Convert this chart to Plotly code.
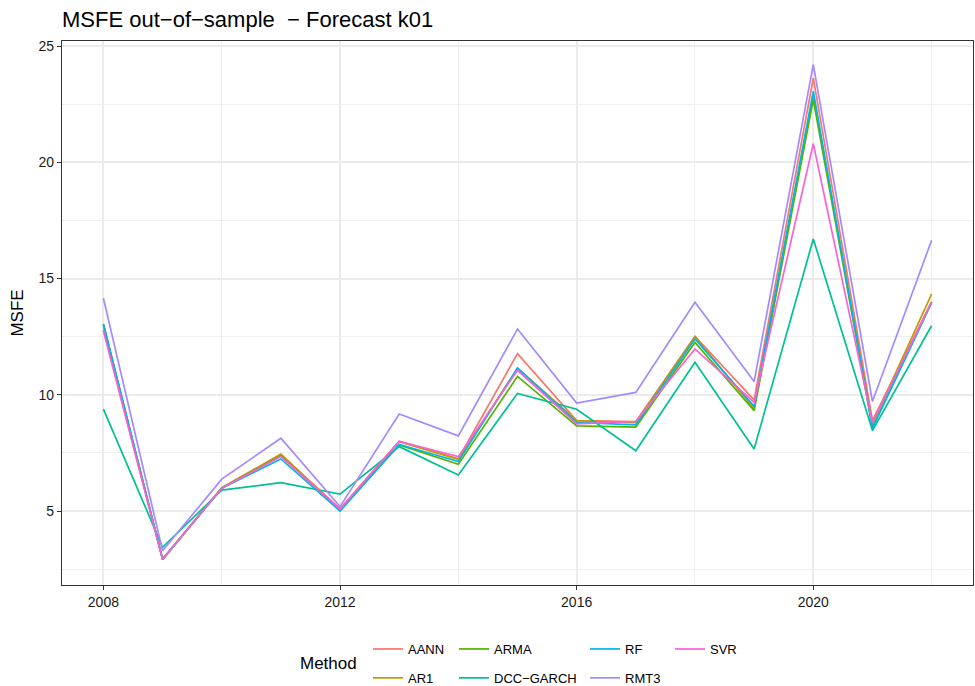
import plotly.graph_objects as go

years = list(range(2008, 2023))

aann = [12.80, 2.92, 5.98, 7.42, 5.10, 8.00, 7.25, 11.77, 8.89, 8.85, 12.51, 9.78, 23.62, 8.90, 14.00]
ar1 = [13.05, 2.92, 6.00, 7.45, 5.05, 7.98, 7.22, 11.15, 8.89, 8.80, 12.50, 9.40, 22.90, 8.75, 14.33]
arma = [13.00, 2.92, 5.98, 7.38, 5.02, 7.84, 7.01, 10.79, 8.66, 8.61, 12.25, 9.32, 22.70, 8.60, 14.00]
dcc_garch = [9.38, 3.44, 5.90, 6.22, 5.73, 7.77, 6.55, 10.06, 9.38, 7.59, 11.40, 7.67, 16.70, 8.46, 12.97]
rf = [13.05, 2.92, 5.98, 7.24, 5.00, 7.86, 7.13, 11.15, 8.81, 8.71, 12.40, 9.50, 23.06, 8.55, 13.95]
rmt3 = [14.15, 3.29, 6.37, 8.13, 5.19, 9.17, 8.23, 12.83, 9.64, 10.10, 13.98, 10.57, 24.20, 9.71, 16.64]
svr = [12.75, 2.92, 5.98, 7.34, 5.08, 7.99, 7.34, 11.05, 8.75, 8.85, 11.97, 9.67, 20.80, 8.80, 13.98]

methods = ["AANN", "AR1", "ARMA", "DCC\u2212GARCH", "RF", "RMT3", "SVR"]
series = [aann, ar1, arma, dcc_garch, rf, rmt3, svr]
colors = ["#F8766D", "#C49A00", "#53B400", "#00C094", "#00B6EB", "#A58AFF", "#FB61D7"]
# legend columns, filled top-to-bottom
legend_cols = ["legend", "legend", "legend2", "legend2", "legend3", "legend3", "legend4"]

W, H = 975, 686
ML, MR, MT, MB = 62, 2, 41, 101
PW, PH = W - ML - MR, H - MT - MB
FONT = "Liberation Sans, Arial, sans-serif"


def px_x(px):
    return (px - ML) / PW


def px_y(py):
    return (H - MB - py) / PH


fig = go.Figure()
for name, vals, col, lg in zip(methods, series, colors, legend_cols):
    fig.add_trace(go.Scatter(
        x=years, y=vals, mode="lines", name=name,
        line=dict(color=col, width=1.7),
        legend=lg, legendgroup=name,
    ))

axis_common = dict(
    showline=True, linecolor="#333333", linewidth=1.2, mirror=True,
    ticks="outside", ticklen=4, tickcolor="#333333", tickwidth=1.2,
    showgrid=True, gridcolor="#EBEBEB", gridwidth=1.5,
    zeroline=False,
    tickfont=dict(family=FONT, size=14, color="#1A1A1A"),
)

fig.update_xaxes(
    range=[2007.3, 2022.7], tick0=2008, dtick=4,
    minor=dict(dtick=2, showgrid=True, gridcolor="#EFEFEF", gridwidth=0.8, ticks=""),
    **axis_common,
)
fig.update_yaxes(
    range=[1.818, 25.215], tick0=0, dtick=5,
    minor=dict(dtick=2.5, showgrid=True, gridcolor="#EFEFEF", gridwidth=0.8, ticks=""),
    title=dict(text="MSFE", font=dict(family=FONT, size=17, color="black"), standoff=10),
    **axis_common,
)

legend_style = dict(
    orientation="v", yanchor="top", xanchor="left",
    font=dict(family=FONT, size=13, color="black"),
    bgcolor="rgba(0,0,0,0)", borderwidth=0,
    tracegroupgap=9, itemwidth=30,
)
top_y = px_y(634)
fig.update_layout(
    legend=dict(x=px_x(368), y=top_y, **legend_style),
    legend2=dict(x=px_x(454), y=top_y, **legend_style),
    legend3=dict(x=px_x(585), y=top_y, **legend_style),
    legend4=dict(x=px_x(670), y=top_y, **legend_style),
)

fig.add_annotation(
    text="Method", xref="paper", yref="paper", showarrow=False,
    x=px_x(298), y=px_y(663),
    xanchor="left", yanchor="middle",
    font=dict(family=FONT, size=17, color="black"),
)

fig.update_layout(
    width=W, height=H,
    margin=dict(l=ML, r=MR, t=MT, b=MB, autoexpand=False),
    paper_bgcolor="white", plot_bgcolor="white",
    title=dict(
        text="MSFE out\u2212of\u2212sample  \u2212 Forecast k01",
        x=ML / W, xanchor="left", y=1 - 19 / H, yanchor="middle",
        font=dict(family=FONT, size=22, color="black"),
    ),
    showlegend=True,
)

fig.write_html("out.html")
